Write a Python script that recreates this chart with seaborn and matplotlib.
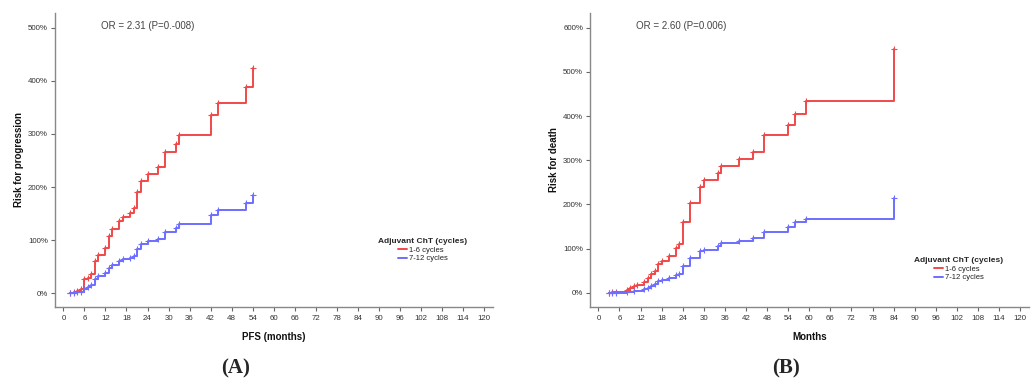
import pandas as pd
import matplotlib
matplotlib.use("Agg")
import matplotlib.pyplot as plt
from matplotlib.ticker import FuncFormatter, MultipleLocator
from matplotlib.lines import Line2D
import seaborn as sns

sns.set_theme(style="white")
plt.rcParams['font.family'] = ['Liberation Sans', 'DejaVu Sans']

# Panel A: risk for progression (cumulative hazard, %)
a_red_t = [2, 3, 4, 5, 6, 7, 8, 9, 10, 12, 13, 14, 16, 17, 19, 20, 21, 22, 24, 27, 29, 32, 33, 42, 44, 52, 54]
a_red_v = [0, 2, 5, 8, 26, 29, 37, 60, 72, 86, 108, 121, 136, 144, 152, 161, 190, 212, 225, 237, 266, 281, 299, 336, 359, 389, 425]
a_blue_t = [2, 3, 4, 5, 6, 7, 8, 9, 10, 12, 13, 14, 16, 17, 19, 20, 21, 22, 24, 27, 29, 32, 33, 42, 44, 52, 54]
a_blue_v = [0, 1, 2, 3, 8, 11, 16, 27, 33, 39, 48, 54, 61, 64, 67, 71, 83, 92, 98, 103, 116, 123, 130, 147, 156, 170, 185]

# Panel B: risk for death (cumulative hazard, %)
b_red_t = [3, 4, 5, 8, 9, 10, 11, 13, 14, 15, 16, 17, 18, 20, 22, 23, 24, 26, 29, 30, 34, 35, 40, 44, 47, 54, 56, 59, 84]
b_red_v = [0, 1, 3, 6, 11, 15, 17, 25, 34, 42, 50, 66, 72, 83, 102, 111, 160, 203, 240, 255, 270, 287, 302, 318, 356, 379, 405, 435, 552]
b_blue_t = [3, 4, 5, 8, 10, 13, 14, 15, 16, 17, 18, 20, 22, 23, 24, 26, 29, 30, 34, 35, 40, 44, 47, 54, 56, 59, 84]
b_blue_v = [0, 0, 0, 1, 4, 8, 12, 15, 19, 27, 29, 34, 40, 43, 61, 79, 94, 98, 107, 113, 118, 124, 138, 149, 160, 168, 214]

groups = ["1-6 cycles", "7-12 cycles"]
colors = {"1-6 cycles": "#f0494b", "7-12 cycles": "#6e6eff"}

OR_TEXT = ["OR = 2.31 (P=0.-008)", "OR = 2.60 (P=0.006)"]
YLABELS = ["Risk for progression", "Risk for death"]
XLABELS = ["PFS (months)", "Months"]
PANELS = ["(A)", "(B)"]


def make_df(red_t, red_v, blue_t, blue_v):
    d1 = pd.DataFrame({"month": red_t, "risk": red_v, "group": groups[0]})
    d2 = pd.DataFrame({"month": blue_t, "risk": blue_v, "group": groups[1]})
    return pd.concat([d1, d2], ignore_index=True)


dfs = [make_df(a_red_t, a_red_v, a_blue_t, a_blue_v),
       make_df(b_red_t, b_red_v, b_blue_t, b_blue_v)]

fig = plt.figure(figsize=(10.35, 3.89), dpi=100)
ax_a = fig.add_axes([0.0531, 0.2108, 0.4232, 0.7558])
ax_b = fig.add_axes([0.5700, 0.2108, 0.4242, 0.7558])

ylims = [(-26, 528), (-32, 633)]
ymaxticks = [500, 600]
leg_pos = [(0.84, 0.252), (0.84, 0.187)]

for i, ax in enumerate([ax_a, ax_b]):
    df = dfs[i]
    for g in groups:
        sub = df[df["group"] == g]
        sns.lineplot(data=sub, x="month", y="risk", ax=ax, color=colors[g],
                     drawstyle="steps-post", marker="+", markersize=5,
                     markeredgecolor=colors[g], markeredgewidth=0.8,
                     linewidth=1.4, estimator=None, sort=False, label=g)
    ax.set_xlim(-2.4, 122.5)
    ax.set_ylim(*ylims[i])
    ax.xaxis.set_major_locator(MultipleLocator(6))
    ax.set_yticks(list(range(0, ymaxticks[i] + 1, 100)))
    ax.yaxis.set_major_formatter(FuncFormatter(lambda v, p: f"{v:.0f}%"))
    for s in ["top", "right"]:
        ax.spines[s].set_visible(False)
    for s in ["left", "bottom"]:
        ax.spines[s].set_color("#888888")
        ax.spines[s].set_linewidth(1.0)
    ax.tick_params(axis="both", which="major", labelsize=5.7, length=3, width=0.8,
                   color="#666666", labelcolor="#333333", direction="out", pad=2)
    ax.tick_params(axis="x", bottom=True, pad=3)
    ax.tick_params(axis="y", left=True)
    ax.set_xlabel(XLABELS[i], fontsize=7, fontweight="bold", color="#111111", labelpad=7)
    ax.set_ylabel(YLABELS[i], fontsize=7, fontweight="bold", color="#111111", labelpad=3)
    ax.text(0.105, 0.955, OR_TEXT[i], transform=ax.transAxes, fontsize=7,
            color="#444444", va="center", ha="left")
    handles = [Line2D([], [], color=colors[g], linewidth=1.4) for g in groups]
    leg = ax.legend(handles, groups, title="Adjuvant ChT (cycles)", loc="upper center",
                    bbox_to_anchor=leg_pos[i], frameon=False, fontsize=5.5,
                    title_fontproperties={"weight": "bold", "size": 6},
                    handlelength=1.2, handletextpad=0.2, labelspacing=0.15,
                    borderpad=0.2)
    for t in leg.get_texts():
        t.set_color("#222222")

fig.text(0.228, 0.053, PANELS[0], fontsize=15, fontweight="bold",
         family="Liberation Serif", ha="center", va="center")
fig.text(0.759, 0.053, PANELS[1], fontsize=15, fontweight="bold",
         family="Liberation Serif", ha="center", va="center")

fig.savefig("out.png", dpi=100)
